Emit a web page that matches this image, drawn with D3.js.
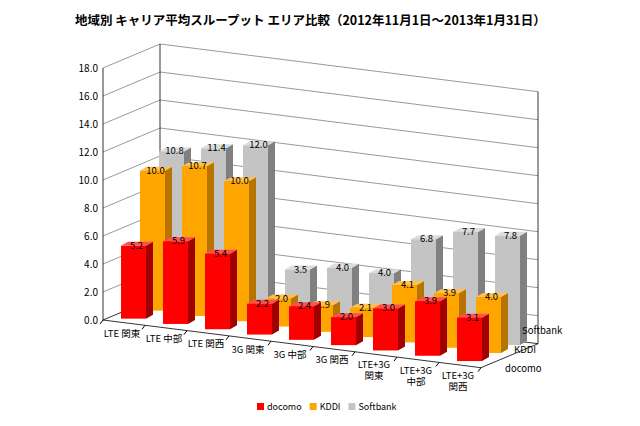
<!DOCTYPE html><html><head><meta charset="utf-8"><script src="https://cdn.jsdelivr.net/npm/d3@7"></script>
<style>body{margin:0;background:#fff}text{font-family:"Noto Sans CJK JP","DejaVu Sans",sans-serif}</style></head><body><svg id="c" width="640" height="426"></svg><script>
const categories=[["LTE 関東"],["LTE 中部"],["LTE 関西"],["3G 関東"],["3G 中部"],["3G 関西"],["LTE+3G","関東"],["LTE+3G","中部"],["LTE+3G","関西"]];
const seriesNames=["docomo","KDDI","Softbank"];
const docomo=[5.2,5.9,5.4,2.2,2.4,2.0,3.0,3.9,3.1];
const kddi=[10.0,10.7,10.0,2.0,1.9,2.1,4.1,3.9,4.0];
const softbank=[10.8,11.4,12.0,3.5,4.0,4.0,6.8,7.7,7.8];
const yTicks=d3.range(0,18.01,2);
const data=[docomo,kddi,softbank];
const colors=[["#ff0000","#a00000","#ff5050"],["#ffa500","#b87400","#ffc04d"],["#c4c4c4","#808080","#dcdcdc"]];
const svg=d3.select("#c");
const O={x:103,y:320},u={x:42,y:5.3},v={x:19,y:-8};
const y=d3.scaleLinear().domain([0,18]).range([0,252]);
const pt=(c,s,val)=>({x:O.x+u.x*c+v.x*s,y:O.y+u.y*c+v.y*s-y(val)});
const g=svg.append("g");
yTicks.forEach(t=>{
  const a=pt(0,0,t),b=pt(0,3,t),c=pt(9,3,t);
  g.append("polyline").attr("points",[a,b,c].map(p=>p.x+","+p.y).join(" ")).attr("fill","none").attr("stroke",t==0?"#000":"#555").attr("stroke-width",t==0?0.8:0.6);
  g.append("text").attr("x",a.x-5).attr("y",a.y+4).attr("text-anchor","end").attr("font-size",10).text(t.toFixed(1));
});
[[pt(0,0,0),pt(0,0,18)],[pt(0,3,0),pt(0,3,18)],[pt(9,3,0),pt(9,3,18)],[pt(0,0,0),pt(9,0,0)],[pt(9,0,0),pt(9,3,0)]].forEach(([a,b])=>g.append("line").attr("x1",a.x).attr("y1",a.y).attr("x2",b.x).attr("y2",b.y).attr("stroke","#000").attr("stroke-width",0.8));
d3.range(10).forEach(i=>{const a=pt(i,0,0);g.append("line").attr("x1",a.x).attr("y1",a.y).attr("x2",a.x-3).attr("y2",a.y+4).attr("stroke","#000");});
const w=25,dx=7,dy=-4;
for(let s=2;s>=0;s--){
  for(let i=0;i<9;i++){
    const val=data[s][i];const b=pt(i+0.5,s+0.5,0),t=pt(i+0.5,s+0.5,val);
    const x0=b.x-w/2,x1=b.x+w/2;
    const bar=g.append("g");
    bar.append("polygon").attr("points",[[x1,t.y],[x1+dx,t.y+dy],[x1+dx,b.y+dy],[x1,b.y]].join(" ")).attr("fill",colors[s][1]);
    bar.append("polygon").attr("points",[[x0,t.y],[x0+dx,t.y+dy],[x1+dx,t.y+dy],[x1,t.y]].join(" ")).attr("fill",colors[s][2]);
    bar.append("rect").attr("x",x0).attr("y",t.y).attr("width",w).attr("height",b.y-t.y).attr("fill",colors[s][0]);
    bar.append("text").attr("x",b.x+3).attr("y",t.y+3).attr("text-anchor","middle").attr("font-size",9.5).text(val.toFixed(1));
  }
}
categories.forEach((c,i)=>{const p=pt(i+0.5,0,0);
  const tx=g.append("text").attr("x",p.x-2).attr("y",p.y+14).attr("text-anchor","middle").attr("font-size",9.5);
  c.forEach((l,k)=>tx.append("tspan").attr("x",p.x-2).attr("dy",k?11:0).text(l));});
const sl=[[505,372],[514,353],[522,334]];
seriesNames.forEach((n,s)=>g.append("text").attr("x",sl[s][0]).attr("y",sl[s][1]).attr("font-size",9.5).text(n));
svg.append("text").attr("x",75).attr("y",25).attr("font-size",12.5).attr("font-weight","bold").text("地域別 キャリア平均スループット エリア比較（2012年11月1日～2013年1月31日）");
const lg=svg.append("g").attr("transform","translate(257,410)");
let lx=0;seriesNames.forEach((n,s)=>{lg.append("rect").attr("x",lx).attr("y",-7).attr("width",7).attr("height",7).attr("fill",colors[s][0]);
 const t=lg.append("text").attr("x",lx+10).attr("y",0).attr("font-size",9).text(n);lx+=t.node().getComputedTextLength()+18;});
</script></body></html>
